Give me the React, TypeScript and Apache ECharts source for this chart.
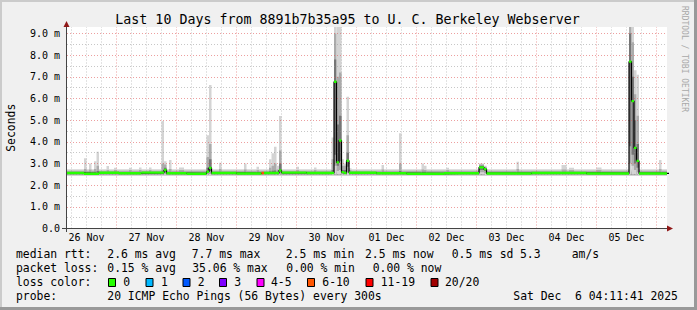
import React, { useEffect, useRef } from "react";
import * as echarts from "echarts";

// Time axis is in hours counted from 26 Nov 00:00 (local time of the graph)
const START_HOUR = 4 + 11 / 60 + 41 / 3600; // 26 Nov 04:11:41
const END_HOUR = START_HOUR + 240; // 10 days later

const dayLabels = ["26 Nov", "27 Nov", "28 Nov", "29 Nov", "30 Nov", "01 Dec", "02 Dec", "03 Dec", "04 Dec", "05 Dec"];
const dayLabelHours = [12, 36, 60, 84, 108, 132, 156, 180, 204, 228];
const yTicks = [0, 1, 2, 3, 4, 5, 6, 7, 8, 9];

const lossColors = ["#26ff00", "#00b8ff", "#0059ff", "#7e00ff", "#ff00ff", "#ff5500", "#ff0000", "#a10000"];
const lossLabels = ["0", "1", "2", "3", "4-5", "6-10", "11-19", "20/20"];

// median rtt (ms): [fromHour, toHour, value, lossBucket]
const medianRuns: [number, number, number, number][] = [
  [4, 11, 2.56, 0],
  [11, 17, 2.53, 0],
  [17, 25, 2.57, 0],
  [25, 34, 2.55, 0],
  [34, 43, 2.58, 0],
  [43, 44, 2.7, 0],
  [44, 52, 2.55, 0],
  [52, 60, 2.53, 0],
  [60, 61, 2.62, 0],
  [61, 62, 2.8, 0],
  [62, 72, 2.56, 0],
  [72, 82, 2.54, 0],
  [82, 83, 2.56, 5],
  [83, 89, 2.56, 0],
  [89, 90, 2.68, 0],
  [90, 100, 2.58, 0],
  [100, 111, 2.56, 0],
  [111, 112, 6.77, 0],
  [112, 113, 3.05, 0],
  [113, 114, 4.06, 0],
  [114, 115, 2.6, 0],
  [115, 116, 2.56, 0],
  [116, 117, 3.13, 0],
  [117, 128, 2.57, 0],
  [128, 140, 2.55, 0],
  [140, 155, 2.53, 0],
  [155, 169, 2.55, 0],
  [169, 171, 2.82, 0],
  [171, 172, 2.74, 0],
  [172, 190, 2.54, 0],
  [190, 212, 2.56, 0],
  [212, 229, 2.54, 0],
  [229, 230, 7.7, 0],
  [230, 231, 5.88, 0],
  [231, 232, 3.72, 0],
  [232, 233, 3.12, 0],
  [233, 245, 2.54, 0],
];

// smoke (ping spread, ms): [fromHour, toHour, min, p10, p25, p75, p90, max]
const smokeRuns: [number, number, number, number, number, number, number, number][] = [
  [4, 245, 2.42, 2.47, 2.51, 2.6, 2.66, 2.74],
  [11, 12, 2.42, 2.47, 2.51, 2.62, 2.75, 3.24],
  [13, 14, 2.42, 2.47, 2.51, 2.62, 2.72, 3.0],
  [15, 16, 2.42, 2.47, 2.51, 2.62, 2.75, 3.1],
  [16, 17, 2.42, 2.47, 2.52, 2.65, 2.9, 3.54],
  [20, 21, 2.42, 2.47, 2.51, 2.62, 2.7, 2.88],
  [23, 24, 2.42, 2.47, 2.51, 2.62, 2.7, 2.8],
  [29, 30, 2.42, 2.47, 2.51, 2.62, 2.7, 2.8],
  [33, 34, 2.42, 2.47, 2.51, 2.62, 2.7, 2.82],
  [37, 38, 2.42, 2.47, 2.51, 2.62, 2.7, 2.82],
  [42, 43, 2.44, 2.48, 2.52, 2.66, 3.0, 4.96],
  [43, 44, 2.45, 2.5, 2.6, 2.8, 2.95, 3.1],
  [45, 46, 2.42, 2.47, 2.51, 2.62, 2.75, 3.16],
  [49, 51, 2.42, 2.47, 2.51, 2.62, 2.7, 2.82],
  [60, 61, 2.44, 2.5, 2.56, 2.8, 3.3, 4.3],
  [61, 62, 2.45, 2.52, 2.65, 3.2, 3.9, 6.62],
  [65, 66, 2.42, 2.47, 2.51, 2.62, 2.75, 3.04],
  [75, 76, 2.42, 2.47, 2.51, 2.62, 2.72, 3.0],
  [80, 81, 2.42, 2.47, 2.51, 2.62, 2.7, 2.85],
  [85, 86, 2.42, 2.47, 2.51, 2.64, 2.8, 3.2],
  [86, 87, 2.42, 2.47, 2.52, 2.66, 2.9, 3.47],
  [87, 88, 2.42, 2.47, 2.52, 2.68, 3.0, 3.77],
  [88, 89, 2.42, 2.47, 2.51, 2.62, 2.72, 2.9],
  [89, 90, 2.45, 2.5, 2.6, 3.0, 3.6, 5.19],
  [96, 97, 2.42, 2.47, 2.51, 2.62, 2.7, 2.85],
  [103, 104, 2.42, 2.47, 2.51, 2.62, 2.7, 2.82],
  [110, 111, 2.44, 2.5, 2.55, 2.7, 3.2, 4.2],
  [111, 112, 2.5, 2.9, 3.4, 7.8, 9.0, 9.6],
  [112, 113, 2.5, 2.65, 2.9, 4.8, 7.0, 9.6],
  [113, 114, 2.5, 2.7, 3.1, 5.2, 7.2, 9.6],
  [114, 115, 2.44, 2.5, 2.55, 2.7, 2.9, 3.2],
  [115, 116, 2.44, 2.5, 2.55, 2.7, 2.9, 3.0],
  [116, 117, 2.46, 2.6, 2.85, 3.5, 4.3, 6.08],
  [117, 118, 2.42, 2.47, 2.51, 2.62, 2.7, 2.78],
  [130, 131, 2.42, 2.47, 2.51, 2.62, 2.72, 2.93],
  [137, 138, 2.44, 2.48, 2.52, 2.65, 3.0, 4.4],
  [146, 147, 2.42, 2.47, 2.51, 2.62, 2.72, 3.0],
  [147, 148, 2.42, 2.47, 2.51, 2.62, 2.7, 2.9],
  [156, 157, 2.42, 2.47, 2.51, 2.62, 2.7, 2.8],
  [169, 171, 2.5, 2.6, 2.7, 2.9, 2.95, 3.0],
  [171, 172, 2.45, 2.55, 2.65, 2.8, 2.85, 2.9],
  [184, 185, 2.42, 2.47, 2.51, 2.62, 2.75, 3.08],
  [202, 204, 2.42, 2.47, 2.51, 2.62, 2.72, 2.93],
  [205, 207, 2.42, 2.47, 2.51, 2.62, 2.7, 2.8],
  [216, 218, 2.42, 2.47, 2.51, 2.62, 2.7, 2.82],
  [229, 230, 2.5, 3.0, 3.8, 9.0, 9.5, 9.6],
  [230, 231, 2.5, 2.9, 3.4, 7.0, 8.6, 9.6],
  [231, 232, 2.5, 2.7, 3.0, 5.0, 6.2, 7.3],
  [232, 233, 2.48, 2.6, 2.8, 3.9, 5.2, 7.1],
  [241, 242, 2.42, 2.47, 2.51, 2.62, 2.75, 3.16],
];

const titleText = "Last 10 Days from 8891b7b35a95 to U. C. Berkeley Webserver";
const rttRow: [number, string][] = [
  [16, "median rtt:"], [107.3, "2.6 ms avg"], [191.7, "7.7 ms max"], [285.7, "2.5 ms min"],
  [365, "2.5 ms now"], [451.7, "0.5 ms sd"], [520, "5.3"], [571.7, "am/s"],
];
const lossRow: [number, string][] = [
  [16, "packet loss:"], [107.3, "0.15 % avg"], [192.2, "35.06 % max"], [286.3, "0.00 % min"], [372.7, "0.00 % now"],
];
const probeRow: [number, string][] = [
  [16, "probe:"], [107.3, "20 ICMP Echo Pings (56 Bytes) every 300s"], [513.3, "Sat Dec\u00a0\u00a06 04:11:41 2025"],
];
const lossBoxX = [108, 145.5, 182.5, 219, 256.5, 307, 365.5, 430.5];
const lossLabelX = [123.3, 161, 197.7, 234.3, 271, 322.3, 380.7, 445];

const MONO = '"DejaVu Sans Mono", monospace';

export default function App() {
  const ref = useRef<HTMLDivElement>(null);

  useEffect(() => {
    if (!ref.current) return;
    document.body.style.margin = "0";
    const chart = echarts.init(ref.current, undefined, { renderer: "svg" });

    const medianPath: [number, number][] = [];
    medianRuns.forEach((r) => {
      medianPath.push([r[0], r[2]]);
      medianPath.push([r[1], r[2]]);
    });

    const gridLines: any[] = [];
    const minorStyle = { color: "rgba(143,143,143,0.5)", type: [1, 2], width: 1 };
    const majorStyle = { color: "rgba(222,80,80,0.55)", type: [1, 2], width: 1 };
    for (let h = 6; h <= 240; h += 6) {
      gridLines.push({ xAxis: h, lineStyle: h % 24 === 0 ? majorStyle : minorStyle });
    }
    for (let v = 0.5; v <= 9; v += 0.5) {
      gridLines.push({ yAxis: v, lineStyle: Number.isInteger(v) ? majorStyle : minorStyle });
    }

    const txt = (x: number, y: number, text: string, size = 11.4, extra: any = {}) => ({
      type: "text",
      x,
      y,
      z: 100,
      style: {
        text,
        fill: "#000",
        font: `${size}px ${MONO}`,
        textAlign: "left",
        textVerticalAlign: "middle",
        ...extra,
      },
    });

    const graphic: any[] = [
      { type: "rect", z: -10, shape: { x: 0, y: 0, width: 2, height: 310 }, style: { fill: "#cbcbcb" } },
      { type: "rect", z: -10, shape: { x: 0, y: 0, width: 697, height: 2 }, style: { fill: "#cbcbcb" } },
      { type: "rect", z: -10, shape: { x: 694, y: 0, width: 3, height: 310 }, style: { fill: "#999999" } },
      { type: "rect", z: -10, shape: { x: 0, y: 307, width: 697, height: 3 }, style: { fill: "#999999" } },
      // axes
      { type: "line", z: 100, shape: { x1: 66.5, y1: 232, x2: 66.5, y2: 26 }, style: { stroke: "#444", lineWidth: 1 } },
      { type: "line", z: 100, shape: { x1: 62, y1: 228.5, x2: 668, y2: 228.5 }, style: { stroke: "#444", lineWidth: 1 } },
      { type: "polygon", z: 101, shape: { points: [[63.5, 27], [69.5, 27], [66.5, 21]] }, style: { fill: "#901818" } },
      { type: "polygon", z: 101, shape: { points: [[667, 225.5], [667, 231.5], [673, 228.5]] }, style: { fill: "#901818" } },
      // title
      txt(347.5, 19.5, titleText, 13.3, { textAlign: "center" }),
      // watermark
      {
        type: "text",
        x: 684.5,
        y: 59,
        rotation: -Math.PI / 2,
        z: 100,
        style: {
          text: "RRDTOOL / TOBI OETIKER",
          fill: "#a8a8a8",
          font: `8px ${MONO}`,
          textAlign: "center",
          textVerticalAlign: "middle",
        },
      },
    ];
    rttRow.forEach(([x, t]) => graphic.push(txt(x, 254.3, t)));
    lossRow.forEach(([x, t]) => graphic.push(txt(x, 268.3, t)));
    graphic.push(txt(16, 282.3, "loss color:"));
    lossLabels.forEach((lab, i) => {
      graphic.push({
        type: "rect",
        z: 100,
        shape: { x: lossBoxX[i] + 0.5, y: 278.5, width: 7, height: 8 },
        style: { fill: lossColors[i], stroke: "#000", lineWidth: 1 },
      });
      graphic.push(txt(lossLabelX[i], 282.3, lab));
    });
    probeRow.forEach(([x, t]) => graphic.push(txt(x, 296, t)));

    const option: any = {
      animation: false,
      backgroundColor: "#f0f0f0",
      textStyle: { fontFamily: MONO },
      grid: {
        left: 67,
        right: 30,
        top: 27,
        bottom: 81.5,
        show: true,
        backgroundColor: "#ffffff",
        borderWidth: 0,
        containLabel: false,
        outerBoundsMode: "none",
      },
      xAxis: {
        type: "value",
        min: START_HOUR,
        max: END_HOUR,
        axisLine: { show: false },
        axisTick: { show: false },
        splitLine: { show: false },
        axisLabel: {
          customValues: dayLabelHours,
          formatter: (v: number) => dayLabels[Math.round((v - 12) / 24)] ?? "",
          color: "#000",
          fontSize: 10,
          fontFamily: MONO,
          margin: 4,
        },
      },
      yAxis: {
        type: "value",
        min: 0,
        max: 9.3,
        interval: 1,
        axisLine: { show: false },
        axisTick: { show: false },
        splitLine: { show: false },
        axisLabel: {
          customValues: yTicks,
          formatter: (v: number) => (v === 0 ? "0.0" : v.toFixed(1) + " m"),
          color: "#000",
          fontSize: 10,
          fontFamily: MONO,
          margin: 7,
        },
        name: "Seconds",
        nameLocation: "middle",
        nameGap: 51,
        nameRotate: 90,
        nameTextStyle: { color: "#000", fontSize: 11.4, fontFamily: MONO },
      },
      series: [
        {
          type: "custom",
          name: "smoke",
          z: 2,
          clip: true,
          silent: true,
          data: smokeRuns,
          encode: { x: [0, 1], y: [2, 7] },
          renderItem: (params: any, api: any) => {
            const x0 = api.coord([api.value(0), 0])[0];
            const x1 = api.coord([api.value(1), 0])[0];
            const yv = (i: number) => api.coord([api.value(0), api.value(i)])[1];
            const band = (lo: number, hi: number, fill: string) => ({
              type: "rect",
              shape: { x: x0, y: yv(hi), width: x1 - x0, height: yv(lo) - yv(hi) },
              style: { fill },
            });
            return {
              type: "group",
              children: [band(2, 7, "#d4d4d4"), band(3, 6, "#ababab"), band(4, 5, "#767676")],
            };
          },
        },
        {
          type: "line",
          name: "grid",
          z: 3,
          silent: true,
          data: [[START_HOUR, -1]],
          symbol: "none",
          lineStyle: { opacity: 0 },
          markLine: {
            z: 3,
            silent: true,
            symbol: ["none", "none"],
            label: { show: false },
            emphasis: { disabled: true },
            data: gridLines,
          },
        },
        {
          type: "line",
          name: "median step",
          z: 4,
          silent: true,
          clip: true,
          data: medianPath,
          symbol: "none",
          lineStyle: { color: "#000", width: 1.2 },
        },
        {
          type: "custom",
          name: "median",
          z: 5,
          clip: true,
          silent: true,
          data: medianRuns,
          encode: { x: [0, 1], y: 2 },
          renderItem: (params: any, api: any) => {
            const p0 = api.coord([api.value(0), api.value(2)]);
            const x1 = api.coord([api.value(1), api.value(2)])[0];
            return {
              type: "rect",
              shape: { x: p0[0], y: p0[1] - 1.2, width: x1 - p0[0], height: 2.4 },
              style: { fill: lossColors[api.value(3)] },
            };
          },
        },
      ],
      graphic,
    };

    chart.setOption(option);
    return () => chart.dispose();
  }, []);

  return <div ref={ref} style={{ position: "absolute", left: 0, top: 0, width: 697, height: 310 }} />;
}
